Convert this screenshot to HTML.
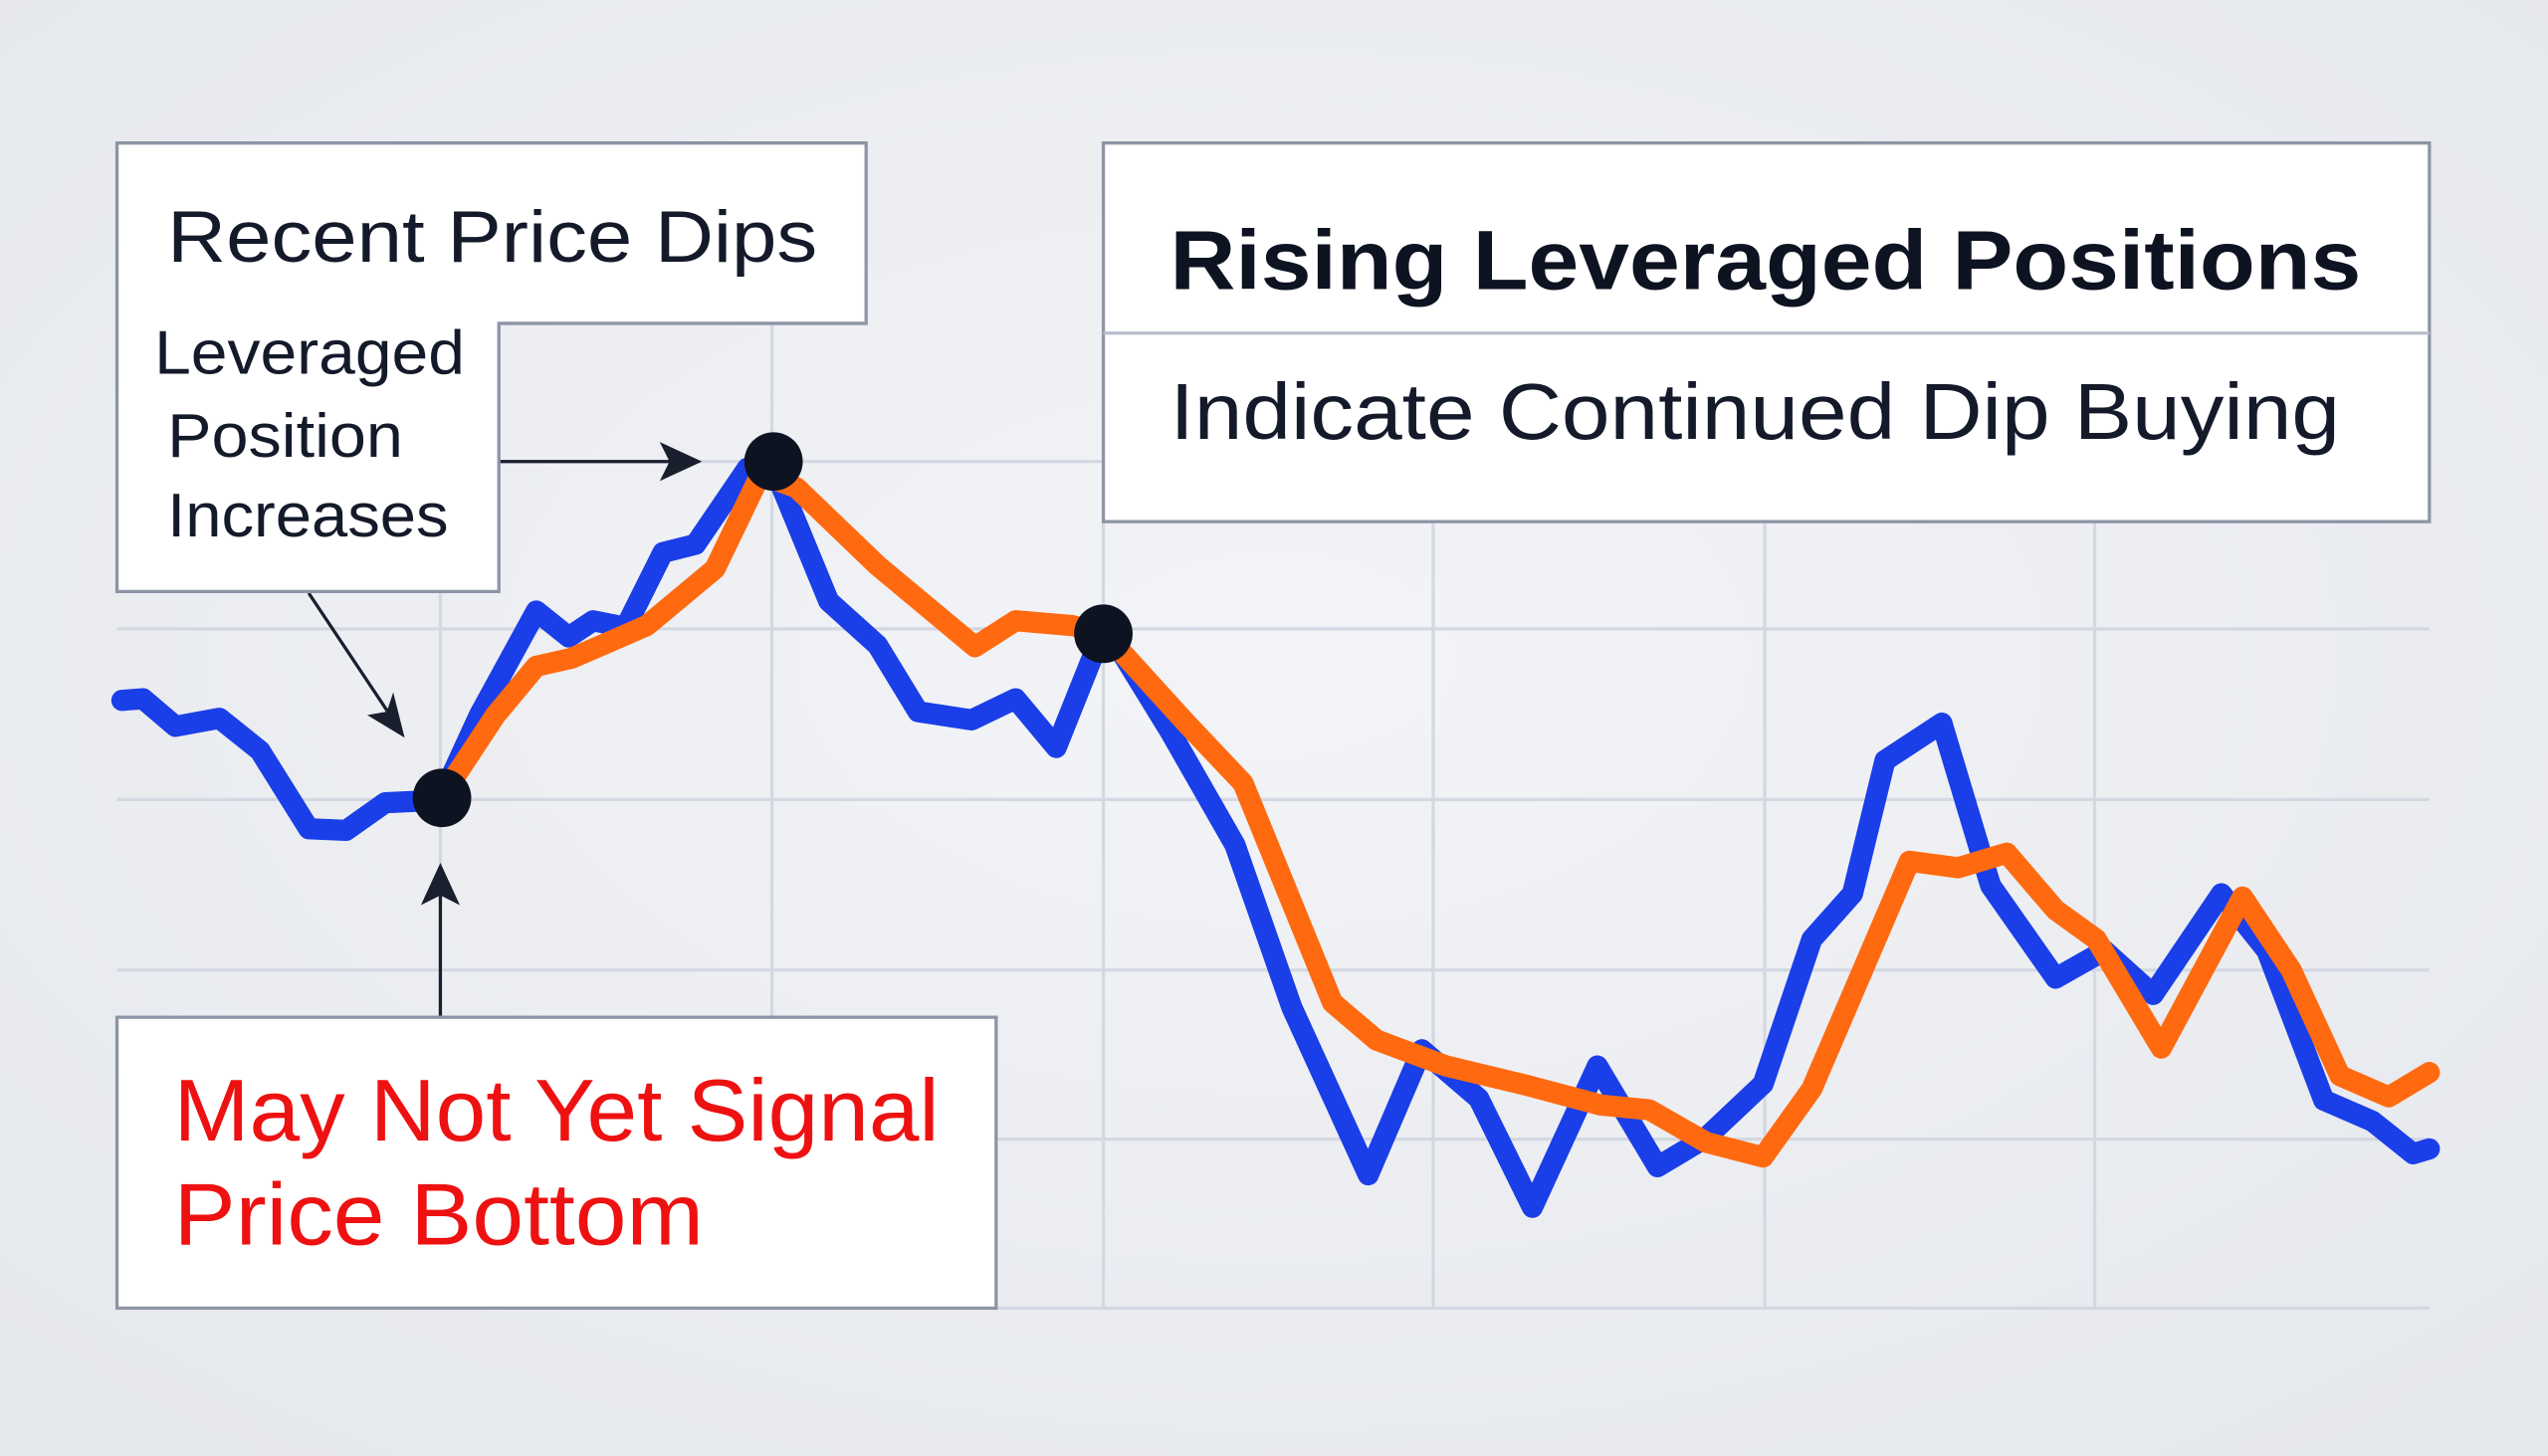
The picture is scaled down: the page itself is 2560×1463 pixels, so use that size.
<!DOCTYPE html>
<html><head><style>
html,body{margin:0;padding:0;background:#eceff3;}
svg{display:block;}
text{font-family:"Liberation Sans",sans-serif;}
</style></head><body>
<svg width="2560" height="1463" viewBox="0 0 1568 896" preserveAspectRatio="none">
<defs>
<radialGradient id="bg" cx="50%" cy="45%" r="75%">
<stop offset="0" stop-color="#f3f4f7"/><stop offset="1" stop-color="#e4e7ec"/>
</radialGradient>
</defs>
<rect width="1568" height="896" fill="url(#bg)"/>
<g stroke="#d3d8e2" stroke-width="2" fill="none">
<line x1="271" y1="200" x2="271" y2="805"/><line x1="475" y1="200" x2="475" y2="805"/>
<line x1="679" y1="200" x2="679" y2="805"/><line x1="882" y1="322" x2="882" y2="805"/>
<line x1="1086" y1="322" x2="1086" y2="805"/><line x1="1289" y1="322" x2="1289" y2="805"/>
<line x1="72" y1="284" x2="1495" y2="284"/>
<line x1="72" y1="387" x2="1495" y2="387"/><line x1="72" y1="492" x2="1495" y2="492"/>
<line x1="72" y1="597" x2="1495" y2="597"/><line x1="72" y1="701" x2="1495" y2="701"/>
<line x1="72" y1="805" x2="1495" y2="805"/>
</g>
<polyline fill="none" stroke="#1a3ee8" stroke-width="13" stroke-linejoin="round" stroke-linecap="round" points="75,431 88,430 108,447 135,442 160,462 190,510 213,511 237,494 258,493 272,490 295,440 330,376 350,392 365,382 385,386 408,340 428,335 460,288 475,285 510,370 540,397 565,438 598,443 625,430 650,460 680,385 720,450 760,520 795,620 842,723 875,646 910,676 943,743 983,656 1020,718 1050,700 1085,667 1115,578 1140,550 1160,468 1195,445 1225,545 1265,602 1295,585 1325,612 1367,550 1395,585 1430,677 1460,690 1485,710 1495,707"/>
<polyline fill="none" stroke="#ff6a10" stroke-width="13" stroke-linejoin="round" stroke-linecap="round" points="272,490 305,440 330,410 352,405 398,385 440,350 468,292 490,300 540,348 600,398 625,382 660,385 680,390 730,445 765,482 820,617 847,640 890,656 940,668 985,680 1015,683 1050,703 1085,712 1115,670 1175,530 1205,534 1235,525 1265,560 1290,578 1330,645 1380,552 1410,597 1440,662 1470,675 1495,660"/>
<g fill="#0e1322"><circle cx="272" cy="491" r="18"/><circle cx="476" cy="284" r="18"/><circle cx="679" cy="390" r="18"/></g>
<g stroke="#1a1f2e" stroke-width="2" fill="#1a1f2e">
<line x1="307" y1="284" x2="415" y2="284"/><polygon points="432,284 406,272 412,284 406,296" stroke="none"/>
<line x1="190" y1="365" x2="240" y2="440"/><polygon points="249,454 226,440 238,438 242,426" stroke="none"/>
<line x1="271" y1="626" x2="271" y2="548"/><polygon points="271,531 259,557 271,551 283,557" stroke="none"/>
</g>
<polygon points="72,88 533,88 533,199 307,199 307,364 72,364" fill="#fff" stroke="#8d94a6" stroke-width="2"/>
<rect x="679" y="88" width="816" height="233" fill="#fff" stroke="#8d94a6" stroke-width="2"/>
<line x1="679" y1="205" x2="1495" y2="205" stroke="#b8bdca" stroke-width="2"/>
<rect x="72" y="626" width="541" height="179" fill="#fff" stroke="#8d94a6" stroke-width="2"/>
<g lengthAdjust="spacingAndGlyphs">
<text x="103" y="161" font-size="45" fill="#141a2a" textLength="400" lengthAdjust="spacingAndGlyphs">Recent Price Dips</text>
<text x="95" y="230" font-size="38" fill="#141a2a" textLength="191" lengthAdjust="spacingAndGlyphs">Leveraged</text>
<text x="103" y="281" font-size="38" fill="#141a2a" textLength="145" lengthAdjust="spacingAndGlyphs">Position</text>
<text x="103" y="330" font-size="38" fill="#141a2a" textLength="173" lengthAdjust="spacingAndGlyphs">Increases</text>
<text x="720" y="178" font-size="52" font-weight="bold" fill="#0e1322" textLength="733" lengthAdjust="spacingAndGlyphs">Rising Leveraged Positions</text>
<text x="720" y="270" font-size="49" fill="#141a2a" textLength="720" lengthAdjust="spacingAndGlyphs">Indicate Continued Dip Buying</text>
<text x="107" y="702" font-size="54" fill="#ee1111" textLength="471" lengthAdjust="spacingAndGlyphs">May Not Yet Signal</text>
<text x="107" y="766" font-size="54" fill="#ee1111" textLength="326" lengthAdjust="spacingAndGlyphs">Price Bottom</text>
</g>
</svg>
</body></html>
